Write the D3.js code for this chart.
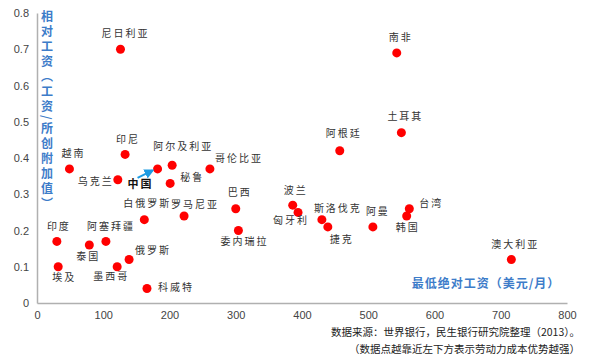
<!DOCTYPE html>
<html>
<head>
<meta charset="utf-8">
<script src="https://cdn.jsdelivr.net/npm/d3@7"></script>
<style>
  body { margin: 0; background: #fff; }
  svg { display: block; font-family: "Noto Sans CJK SC", "Noto Sans", sans-serif; }
  .tick text { font-family: "Liberation Sans", Arial, sans-serif; font-size: 11px; fill: #444; }
  .lbl { font-size: 10px; letter-spacing: 2px; fill: #333; }
</style>
</head>
<body>
<div class="chart"></div>
<script>
// countries, minimum absolute wage (USD/month), relative wage (wage / value added)
var countries = ['尼日利亚', '越南', '印尼', '中国', '阿尔及利亚', '乌克兰', '秘鲁', '哥伦比亚',
  '白俄罗斯', '罗马尼亚', '印度', '泰国', '阿塞拜疆', '俄罗斯', '墨西哥', '埃及', '科威特',
  '巴西', '委内瑞拉', '波兰', '匈牙利', '斯洛伐克', '捷克', '阿曼', '阿根廷', '南非', '土耳其',
  '台湾', '韩国', '澳大利亚'];
var wages = [126, 49, 133, 182, 204, 122, 201, 261,
  162, 222, 30, 79, 104, 139, 121, 32, 166,
  300, 304, 386, 394, 430, 439, 507, 457, 543, 550,
  562, 558, 716];
var ratios = [0.70, 0.37, 0.41, 0.37, 0.38, 0.34, 0.33, 0.37,
  0.23, 0.24, 0.17, 0.16, 0.17, 0.12, 0.10, 0.10, 0.04,
  0.26, 0.20, 0.27, 0.25, 0.23, 0.21, 0.21, 0.42, 0.69, 0.47,
  0.26, 0.24, 0.12];
var xTicks = [0, 100, 200, 300, 400, 500, 600, 700, 800];
var yTicks = [0, 0.1, 0.2, 0.3, 0.4, 0.5, 0.6, 0.7, 0.8];

var xTitle = '最低绝对工资（美元/月）';
var yTitle = '相对工资（工资/所创附加值）';
var source1 = '数据来源：世界银行，民生银行研究院整理（2013）。';
var source2 = '（数据点越靠近左下方表示劳动力成本优势越强）';

// label offsets from the dot, in pixels
var labelOffset = {
  '尼日利亚': [4, -15], '越南': [3, -15], '印尼': [2, -14], '中国': [-18, 16],
  '阿尔及利亚': [10, -18], '乌克兰': [-23, 3], '秘鲁': [21, -5], '哥伦比亚': [28, -10],
  '白俄罗斯': [2, -15], '罗马尼亚': [10, -11], '印度': [1, -14], '泰国': [-2, 12],
  '阿塞拜疆': [4, -14], '俄罗斯': [23, -8], '墨西哥': [-7, 11], '埃及': [5, 12],
  '科威特': [28, 0], '巴西': [3, -15], '委内瑞拉': [5, 12], '波兰': [2, -14],
  '匈牙利': [-8, 9], '斯洛伐克': [15, -10], '捷克': [13, 13], '阿曼': [4, -15],
  '阿根廷': [3, -16], '南非': [3, -15], '土耳其': [3, -15], '台湾': [21, -4],
  '韩国': [0, 12], '澳大利亚': [3, -14]
};

var W = 600, H = 358;
var margin = {top: 13, right: 33, bottom: 55, left: 37};

var svg = d3.select('.chart').append('svg')
    .attr('width', W)
    .attr('height', H);

var x = d3.scaleLinear().domain([0, 800]).range([margin.left, W - margin.right]);
var y = d3.scaleLinear().domain([0, 0.8]).range([H - margin.bottom, margin.top]);

var data = countries.map(function(c, i) { return {name: c, wage: wages[i], ratio: ratios[i]}; });

// axes
var xAxis = svg.append('g')
    .attr('transform', 'translate(0,' + y(0) + ')')
    .call(d3.axisBottom(x).tickValues(xTicks).tickSize(0).tickPadding(8));
var yAxis = svg.append('g')
    .attr('transform', 'translate(' + x(0) + ',0)')
    .call(d3.axisLeft(y).tickValues(yTicks).tickSize(0).tickPadding(8)
      .tickFormat(function(d) { return d === 0 ? '0' : d3.format('.1f')(d); }));
[xAxis, yAxis].forEach(function(a) {
  a.select('.domain').attr('stroke', '#b0b0b0').attr('stroke-width', 1.5);
});

// axis titles
svg.append('text')
    .attr('x', 486)
    .attr('y', y(0.05))
    .attr('text-anchor', 'middle')
    .attr('dominant-baseline', 'middle')
    .style('font-size', '12px')
    .style('font-weight', 'bold')
    .style('letter-spacing', '1px')
    .style('fill', '#3d7cc9')
    .text(xTitle);

svg.append('text')
    .attr('x', 47)
    .attr('y', 10)
    .style('writing-mode', 'vertical-rl')
    .style('font-size', '12px')
    .style('font-weight', 'bold')
    .style('letter-spacing', '3px')
    .style('fill', '#3d7cc9')
    .text(yTitle);

// dots
svg.append('g').selectAll('circle')
    .data(data)
  .enter().append('circle')
    .attr('cx', function(d) { return x(d.wage); })
    .attr('cy', function(d) { return y(d.ratio); })
    .attr('r', 4.5)
    .attr('fill', '#ff0000');

// labels
svg.append('g').selectAll('text')
    .data(data)
  .enter().append('text')
    .attr('class', 'lbl')
    .attr('x', function(d) { return x(d.wage) + labelOffset[d.name][0] + 1; })
    .attr('y', function(d) { return y(d.ratio) + labelOffset[d.name][1]; })
    .attr('text-anchor', 'middle')
    .attr('dominant-baseline', 'middle')
    .style('font-weight', function(d) { return d.name === '中国' ? 'bold' : null; })
    .style('font-size', function(d) { return d.name === '中国' ? '11px' : null; })
    .style('fill', function(d) { return d.name === '中国' ? '#111' : null; })
    .text(function(d) { return d.name; });

// arrow pointing at China
svg.append('defs').append('marker')
    .attr('id', 'arrow')
    .attr('viewBox', '0 0 10 10')
    .attr('refX', 8).attr('refY', 5)
    .attr('markerWidth', 5).attr('markerHeight', 5)
    .attr('orient', 'auto')
  .append('path')
    .attr('d', 'M0,0 L10,5 L0,10 z')
    .attr('fill', '#1d9be2');

var cn = data[countries.indexOf('中国')];
svg.append('line')
    .attr('x1', x(cn.wage) - 20).attr('y1', y(cn.ratio) + 9)
    .attr('x2', x(cn.wage) - 5).attr('y2', y(cn.ratio) + 1.5)
    .attr('stroke', '#1d9be2')
    .attr('stroke-width', 2)
    .attr('marker-end', 'url(#arrow)');

// source notes
svg.append('text')
    .attr('x', 580).attr('y', 336)
    .attr('text-anchor', 'end')
    .style('font-size', '10.5px')
    .style('fill', '#222')
    .text(source1);
svg.append('text')
    .attr('x', 580).attr('y', 353)
    .attr('text-anchor', 'end')
    .style('font-size', '10.5px')
    .style('fill', '#222')
    .text(source2);
</script>
</body>
</html>
